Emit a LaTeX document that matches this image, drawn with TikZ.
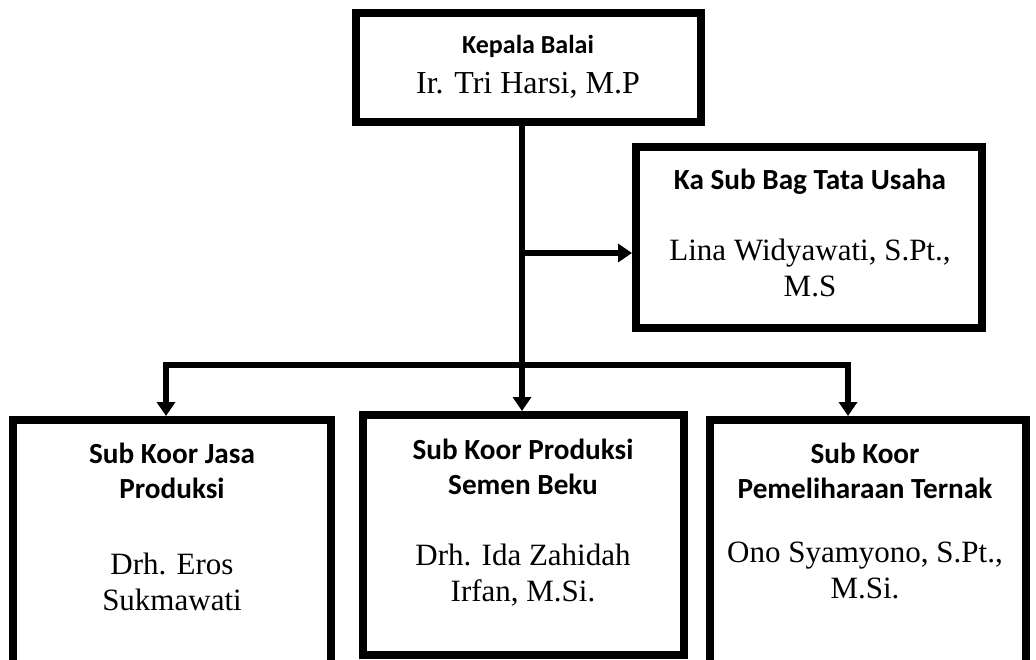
\documentclass[tikz,border=0pt]{standalone}
\usepackage{fontspec}
\setmainfont{Liberation Serif}
\newfontfamily\headfont{Carlito}
\usetikzlibrary{arrows.meta,positioning}
\tikzset{
  unitbox/.style={draw=black,line width=4pt,fill=white,inner sep=0pt},
  ar/.style={-{Triangle[length=7pt,width=9pt]},line width=3pt,line join=miter},
  ln/.style={line width=3pt},
  head/.style={font=\headfont\bfseries\fontsize{14.6}{17.5}\selectfont,align=center,inner sep=0pt},
  pers/.style={font=\fontsize{15.5}{18}\selectfont,align=center,inner sep=0pt}
}
\begin{document}
\begin{tikzpicture}[x=0.5pt,y=-0.5pt]
\useasboundingbox (0,0) rectangle (1036,659);
\clip (0,0) rectangle (1036,659);
% boxes
\node[unitbox,minimum width=172.5pt,minimum height=54.5pt] (kepala) at (528.5,67.5) {};
\node[unitbox,minimum width=173pt,minimum height=90.5pt] (tu) at (809,237.5) {};
\node[unitbox,minimum width=159pt,minimum height=150pt] (jasa) at (172,570) {};
\node[unitbox,minimum width=160.5pt,minimum height=120pt] (semen) at (523.5,535) {};
\node[unitbox,minimum width=158pt,minimum height=150pt] (ternak) at (868,570) {};
% texts
\node[head,font=\headfont\bfseries\fontsize{13}{16}\selectfont] (kepalaH) at (528,46) {Kepala Balai};
\node[pers,font=\fontsize{16}{18}\selectfont] (kepalaP) at (528,85) {Ir. Tri Harsi, M.P};
\node[head] (tuH) at (810,182) {Ka Sub Bag Tata Usaha};
\node[pers] (tuP) at (810,268) {Lina Widyawati, S.Pt.,\\M.S};
\node[head] (jasaH) at (172,470.5) {Sub Koor Jasa\\Produksi};
\node[pers] (jasaP) at (172,581.5) {Drh. Eros\\Sukmawati};
\node[head] (semenH) at (523,466.5) {Sub Koor Produksi\\Semen Beku};
\node[pers] (semenP) at (523,575) {Drh. Ida Zahidah\\Irfan, M.Si.};
\node[head] (ternakH) at (865,470.5) {Sub Koor\\Pemeliharaan Ternak};
\node[pers] (ternakP) at (865,570) {Ono Syamyono, S.Pt.,\\M.Si.};
% connectors
\coordinate (fork) at (522,365);
\coordinate (busL) at (166,365);
\coordinate (busR) at (848,365);
\coordinate (tuin) at ([yshift=-7.75pt]tu.west);
\draw[ar] (kepala.south -| fork) -- (fork |- semen.north);
\draw[ar] (fork |- tuin) -- (tuin);
\draw[ar] (fork) -| (busL |- jasa.north);
\draw[ar] (fork) -| (busR |- ternak.north);
\end{tikzpicture}
\end{document}
